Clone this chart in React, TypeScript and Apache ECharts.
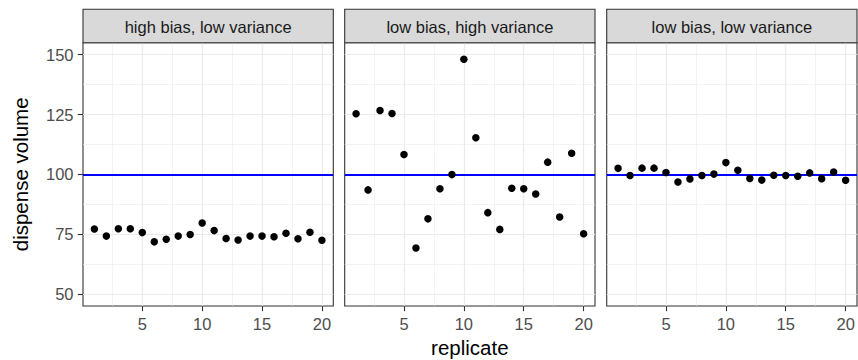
import React, { useEffect, useRef } from "react";
import * as echarts from "echarts";

const replicate = [1, 2, 3, 4, 5, 6, 7, 8, 9, 10, 11, 12, 13, 14, 15, 16, 17, 18, 19, 20];
const highBiasLowVariance = [77.2, 74.2, 77.3, 77.3, 75.7, 71.8, 72.9, 74.2, 74.9, 79.7, 76.5, 73.2, 72.6, 74.2, 74.2, 73.9, 75.4, 73.1, 75.8, 72.5];
const lowBiasHighVariance = [125.3, 93.5, 126.7, 125.4, 108.3, 69.2, 81.4, 94.0, 99.9, 148.1, 115.3, 84.0, 77.0, 94.2, 94.0, 91.8, 105.1, 82.2, 108.8, 75.2];
const lowBiasLowVariance = [102.5, 99.5, 102.6, 102.6, 100.8, 96.8, 98.1, 99.5, 100.1, 104.9, 101.7, 98.3, 97.6, 99.6, 99.5, 99.2, 100.6, 98.2, 101.0, 97.5];
const panelTitles = ["high bias, low variance", "low bias, high variance", "low bias, low variance"];
const xTicks = [5, 10, 15, 20];
const xMinor = [2.5, 7.5, 12.5, 17.5];
const yTicks = [50, 75, 100, 125, 150];
const yMinor = [62.5, 87.5, 112.5, 137.5];
const target = 100;
const xLabel = "replicate";
const yLabel = "dispense volume";

const FONT = "'Liberation Sans', Arial, Helvetica, sans-serif";

export default function App() {
  const ref = useRef<HTMLDivElement>(null);
  useEffect(() => {
    document.body.style.margin = "0";
    if (!ref.current) return;
    const chart = echarts.init(ref.current, null, { renderer: "svg" });
    const panels = [highBiasLowVariance, lowBiasHighVariance, lowBiasLowVariance];
    const lefts = [83, 344.7, 606.7];
    const W = 250.3;
    const TOP = 42.7;
    const H = 263.3;
    const STRIP_TOP = 9.3;

    const grids = lefts.map((l) => ({
      left: l,
      top: TOP,
      width: W,
      height: H,
      show: true,
      borderColor: "#333333",
      borderWidth: 1.1,
      backgroundColor: "#ffffff",
      containLabel: false,
    }));

    const xAxes = lefts.map((_, i) => ({
      type: "value",
      gridIndex: i,
      min: 0.05,
      max: 20.95,
      axisLine: { show: false },
      splitLine: { show: false },
      axisTick: { show: true, length: 5.2, lineStyle: { color: "#333333", width: 1.1 }, customValues: xTicks },
      axisLabel: { show: true, customValues: xTicks, color: "#4d4d4d", fontSize: 16.5, fontFamily: FONT, margin: 9 },
    }));

    const yAxes = lefts.map((_, i) => ({
      type: "value",
      gridIndex: i,
      min: 45,
      max: 155,
      axisLine: { show: false },
      splitLine: { show: false },
      axisTick: { show: i === 0, length: 5.2, lineStyle: { color: "#333333", width: 1.1 }, customValues: yTicks },
      axisLabel: { show: i === 0, customValues: yTicks, color: "#4d4d4d", fontSize: 16.5, fontFamily: FONT, margin: 9.5 },
    }));

    const series: any[] = [];
    panels.forEach((vals, i) => {
      const pts = replicate.map((r, k) => [r, vals[k]]);
      series.push({
        type: "scatter",
        xAxisIndex: i,
        yAxisIndex: i,
        data: pts,
        symbolSize: 0,
        silent: true,
        z: 1,
        markLine: {
          z: 1,
          silent: true,
          symbol: "none",
          label: { show: false },
          emphasis: { disabled: true },
          lineStyle: { color: "#ebebeb", width: 0.6, type: "solid" },
          data: [
            ...yMinor.map((v) => ({ yAxis: v })),
            ...xMinor.map((v) => ({ xAxis: v })),
          ],
        },
      });
      series.push({
        type: "scatter",
        xAxisIndex: i,
        yAxisIndex: i,
        data: pts,
        symbolSize: 0,
        silent: true,
        z: 2,
        markLine: {
          z: 2,
          silent: true,
          symbol: "none",
          label: { show: false },
          emphasis: { disabled: true },
          lineStyle: { color: "#ebebeb", width: 1.2, type: "solid" },
          data: [
            ...yTicks.map((v) => ({ yAxis: v })),
            ...xTicks.map((v) => ({ xAxis: v })),
          ],
        },
      });
      series.push({
        type: "scatter",
        xAxisIndex: i,
        yAxisIndex: i,
        data: pts,
        symbolSize: 0,
        silent: true,
        z: 3,
        markLine: {
          z: 3,
          silent: true,
          symbol: "none",
          label: { show: false },
          emphasis: { disabled: true },
          lineStyle: { color: "#0000ff", width: 1.8, type: "solid" },
          data: [{ yAxis: target }],
        },
      });
      series.push({
        type: "scatter",
        xAxisIndex: i,
        yAxisIndex: i,
        data: pts,
        symbol: "circle",
        symbolSize: 7.5,
        itemStyle: { color: "#000000", opacity: 1 },
        emphasis: { disabled: true },
        z: 10,
      });
    });

    const graphics: any[] = [];
    lefts.forEach((l, i) => {
      graphics.push({
        type: "rect",
        shape: { x: l, y: STRIP_TOP, width: W, height: TOP - STRIP_TOP },
        style: { fill: "#d9d9d9", stroke: "#333333", lineWidth: 1.1 },
        z: 10,
      });
      graphics.push({
        type: "text",
        x: l + W / 2,
        y: (STRIP_TOP + TOP) / 2 + 0.5,
        style: {
          text: panelTitles[i],
          fill: "#1a1a1a",
          font: `16.5px ${FONT}`,
          align: "center",
          verticalAlign: "middle",
        },
        z: 11,
      });
    });
    graphics.push({
      type: "text",
      x: lefts[1] + W / 2,
      y: 347,
      style: { text: xLabel, fill: "#000000", font: `20.5px ${FONT}`, align: "center", verticalAlign: "middle" },
    });
    graphics.push({
      type: "text",
      x: 20,
      y: TOP + H / 2,
      rotation: Math.PI / 2,
      style: { text: yLabel, fill: "#000000", font: `20.5px ${FONT}`, align: "center", verticalAlign: "middle" },
    });

    chart.setOption({
      animation: false,
      backgroundColor: "#ffffff",
      grid: grids,
      xAxis: xAxes,
      yAxis: yAxes,
      series,
      graphic: graphics,
    });
    return () => chart.dispose();
  }, []);
  return <div ref={ref} style={{ width: 858, height: 360 }} />;
}
